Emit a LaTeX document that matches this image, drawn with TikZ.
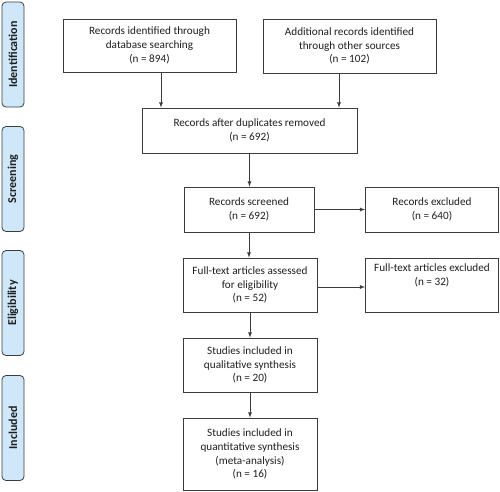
\documentclass[tikz,border=0pt]{standalone}
\usepackage{fontspec}
\setmainfont{Carlito}
\usepackage{xcolor}
\definecolor{boxline}{RGB}{60,60,60}
\definecolor{textgrey}{RGB}{30,30,30}
\definecolor{phasefill}{RGB}{206,231,249}

\begin{document}
\begin{tikzpicture}[
			     x=1pt, y=-1pt,
			     >=latex,
			     font=\fontsize{11.2}{13.8}\selectfont,
			     stepbox/.style={draw=boxline, thick, text=textgrey, align=center, rectangle, inner sep=2pt},
			     phase/.style={draw=boxline, thick, fill=phasefill, rounded corners=4pt, rotate=90,
			                   minimum width=105pt, minimum height=22pt, inner sep=0pt,
			                   font=\fontsize{12}{13}\selectfont\bfseries, text=textgrey},
			     normal line/.style={->, draw=boxline, thick}
			     ]
\useasboundingbox (0,0) rectangle (500,491);

\node[phase] (ph-id) at (13,54.5) {Identification};
\node[phase] (ph-sc) at (13,179) {Screening};
\node[phase] (ph-el) at (13,303) {Eligibility};
\node[phase] (ph-in) at (13,428) {Included};

\node[stepbox, minimum width=173pt, minimum height=53pt] (db) at (149.5,45.5) {Records identified through\\database searching\\(n = 894)};
\node[stepbox, minimum width=173pt, minimum height=54pt] (other) at (349.5,46) {Additional records identified\\through other sources\\(n = 102)};
\node[stepbox, minimum width=215pt, minimum height=45pt] (dup) at (249.5,130.5) {Records after duplicates removed\\(n = 692)};
\node[stepbox, minimum width=130pt, minimum height=45pt] (scr) at (249,209.5) {Records screened\\(n = 692)};
\node[stepbox, minimum width=133pt, minimum height=45pt] (scrx) at (432,209.5) {Records excluded\\(n = 640)};
\node[stepbox, minimum width=134pt, minimum height=54pt] (elig) at (250,285) {Full-text articles assessed\\for eligibility\\(n = 52)};
\node[stepbox, minimum width=133pt, minimum height=54pt, text depth=20pt] (eligx) at (432,285) {Full-text articles excluded\\(n = 32)};
\node[stepbox, minimum width=134pt, minimum height=54pt] (qual) at (250,365) {Studies included in\\qualitative synthesis\\(n = 20)};
\node[stepbox, minimum width=134pt, minimum height=72pt] (quant) at (250,454) {Studies included in\\quantitative synthesis\\(meta-analysis)\\(n = 16)};

\path ([xshift=11.5pt]db.south) edge[normal line] ([xshift=11.5pt]db.south |- dup.north);
\path ([xshift=-10.5pt]other.south) edge[normal line] ([xshift=-10.5pt]other.south |- dup.north);
\path (dup.south) edge[normal line] (dup.south |- scr.north);
\path (scr.east) edge[normal line] (scr.east -| scrx.west);
\path (scr.south) edge[normal line] (scr.south |- elig.north);
\path ([yshift=-2pt]elig.east) edge[normal line] ([yshift=-2pt]elig.east -| eligx.west);
\path (elig.south) edge[normal line] (qual.north);
\path (qual.south) edge[normal line] (quant.north);
\end{tikzpicture}
\end{document}
